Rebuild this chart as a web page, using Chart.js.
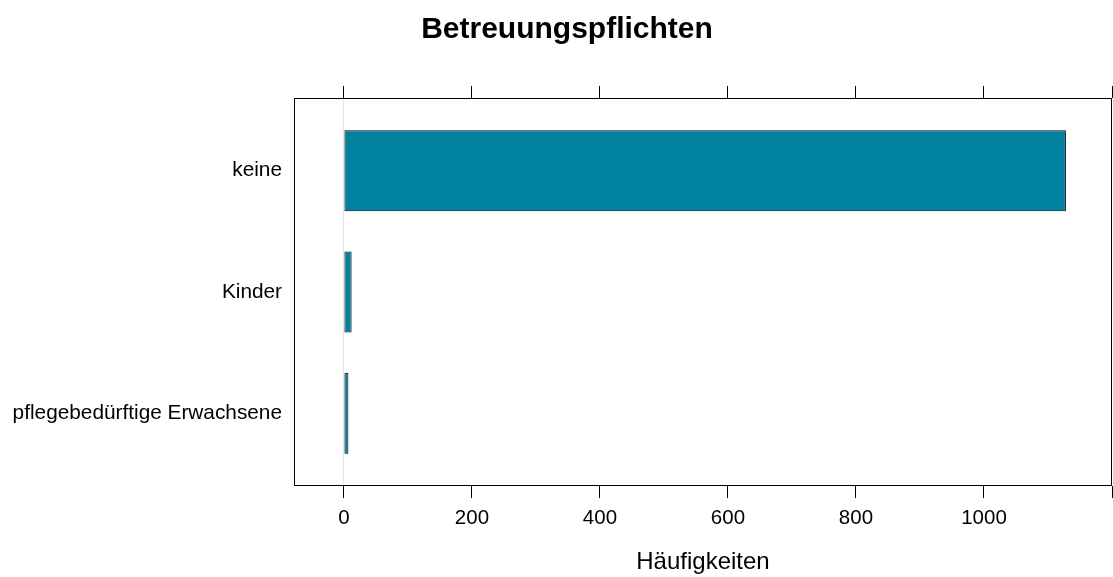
<!DOCTYPE html>
<html>
<head>
<meta charset="utf-8">
<script src="https://cdn.jsdelivr.net/npm/chart.js@4/dist/chart.umd.min.js"></script>
<style>
  html, body { margin: 0; padding: 0; background: #ffffff; }
  #wrap { width: 1113px; height: 577px; position: relative; }
</style>
</head>
<body>
<div id="wrap"><canvas id="chart"></canvas></div>
<script>
// Categories (top to bottom) and their counts
const categories = ['keine', 'Kinder', 'pflegebedürftige Erwachsene'];
const counts = [1128, 12, 7];
const xTicks = [0, 200, 400, 600, 800, 1000, 1200];
const xLabelHidden = [1200];

const chartTitle = 'Betreuungspflichten';
const xTitle = 'Häufigkeiten';

Chart.defaults.font.family = "'Liberation Sans', Arial, sans-serif";
Chart.defaults.color = '#000000';

// Each category sits at integer position 1..n on a linear index axis
const points = categories.map((c, i) => ({ x: counts[i], y: i + 1 }));

// Black frame around the panel; title block nudged a little to the right
const panelBox = {
  id: 'panelBox',
  afterLayout(chart) {
    if (chart.titleBlock) { chart.titleBlock.left = 22; }
  },
  afterDatasetsDraw(chart) {
    const a = chart.chartArea;
    const ctx = chart.ctx;
    ctx.save();
    ctx.strokeStyle = '#000000';
    ctx.lineWidth = 1;
    ctx.strokeRect(Math.round(a.left) + 0.5, Math.round(a.top) + 0.5,
                   Math.round(a.right - a.left) - 1, Math.round(a.bottom - a.top) - 1);
    ctx.restore();
  }
};

const setTicks = (scale) => { scale.ticks = xTicks.map(v => ({ value: v })); };
const noSidePadding = (s) => { s.paddingLeft = 0; s.paddingRight = 0; };

new Chart(document.getElementById('chart'), {
  type: 'bar',
  data: {
    datasets: [{
      data: points,
      backgroundColor: '#00829f',
      borderColor: '#000000',
      borderWidth: 1,
      borderSkipped: false,
      categoryPercentage: 1,
      barPercentage: 0.668
    }]
  },
  options: {
    indexAxis: 'y',
    responsive: true,
    maintainAspectRatio: false,
    animation: false,
    layout: { padding: { left: 0, right: 1, top: 0, bottom: 0 } },
    plugins: {
      legend: { display: false },
      tooltip: { enabled: false },
      title: {
        display: true,
        text: chartTitle,
        color: '#000000',
        font: { size: 30, weight: 'bold' },
        padding: { top: 12, bottom: 0 }
      }
    },
    scales: {
      x: {
        type: 'linear',
        position: 'bottom',
        min: -78,
        max: 1200,
        afterBuildTicks: setTicks,
        afterFit: (s) => { s.height = 91; noSidePadding(s); },
        border: { display: false },
        grid: {
          drawOnChartArea: true,
          color: (c) => (c.tick && c.tick.value === 0) ? '#e6e6e6' : 'rgba(0,0,0,0)',
          tickColor: '#000000',
          tickLength: 12,
          lineWidth: 1
        },
        ticks: {
          autoSkip: false,
          maxRotation: 0,
          padding: 8,
          font: { size: 20.5 },
          color: '#000000',
          callback: (v) => xLabelHidden.includes(v) ? '' : String(v)
        },
        title: {
          display: true,
          text: xTitle,
          color: '#000000',
          font: { size: 24 },
          padding: { top: 0, bottom: 0 }
        }
      },
      x2: {
        type: 'linear',
        position: 'top',
        min: -78,
        max: 1200,
        afterBuildTicks: setTicks,
        afterFit: (s) => { s.height = 50; noSidePadding(s); },
        border: { display: false },
        grid: {
          drawOnChartArea: false,
          color: '#000000',
          tickColor: '#000000',
          tickLength: 12,
          lineWidth: 1
        },
        ticks: { display: false }
      },
      y: {
        type: 'linear',
        position: 'left',
        reverse: true,
        offset: false,
        min: 0.4,
        max: categories.length + 0.6,
        afterBuildTicks: (s) => { s.ticks = categories.map((c, i) => ({ value: i + 1 })); },
        afterFit: (s) => { s.width = 294; },
        border: { display: false },
        grid: { display: false, drawTicks: false, offset: false },
        ticks: {
          padding: 12,
          font: { size: 20.8 },
          color: '#000000',
          callback: (v) => categories[v - 1]
        }
      }
    }
  },
  plugins: [panelBox]
});
</script>
</body>
</html>
